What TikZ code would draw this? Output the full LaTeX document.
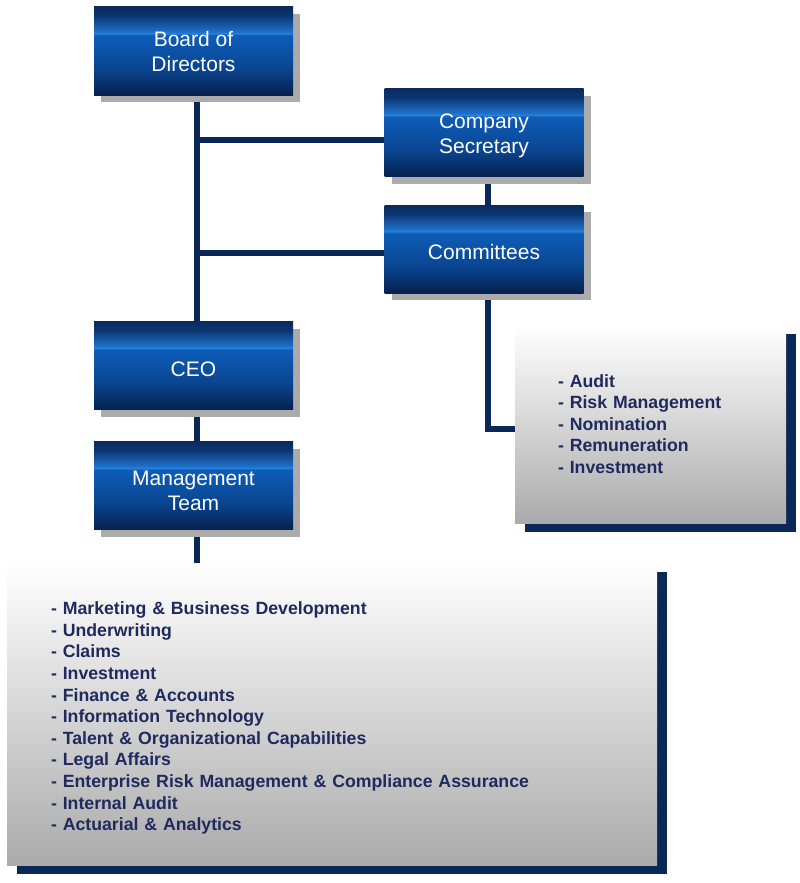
\documentclass[tikz,border=0pt]{standalone}
\usepackage{fontspec}
\setmainfont{Liberation Sans}
\usetikzlibrary{shadows,backgrounds}
\definecolor{Navy}{HTML}{0A2857}
\definecolor{Ink}{HTML}{1F2A5E}
\definecolor{Steel}{HTML}{ABABAB}
\definecolor{BoxBottom}{HTML}{05214F}
\definecolor{BoxLow}{HTML}{0A4590}
\definecolor{BoxMid}{HTML}{0E5DBA}
\definecolor{BoxBand}{HTML}{2C82D6}
\definecolor{BoxHigh}{HTML}{1E72CC}
\definecolor{BoxUpper}{HTML}{0B3672}
\definecolor{BoxTop}{HTML}{0A2A5C}
\pgfdeclareverticalshading{unitshade}{100bp}{color(0bp)=(BoxBottom); color(25bp)=(BoxBottom);
  color(40bp)=(BoxLow); color(59bp)=(BoxMid); color(60bp)=(BoxBand); color(60.8bp)=(BoxHigh);
  color(70bp)=(BoxUpper); color(75bp)=(BoxTop); color(100bp)=(BoxTop)}

\begin{document}
\begin{tikzpicture}[x=1pt, y=-1pt,
  unit/.style={minimum width=199pt, minimum height=88pt, inner sep=0pt, align=center,
    text=white, font=\fontsize{21}{25}\selectfont, shading=unitshade,
    execute at begin node={\rule{0pt}{21.3pt}},
    drop shadow={shadow xshift=7pt, shadow yshift=-7pt, fill=Steel, opacity=1}},
  listbox/.style={minimum height=#1, inner ysep=0pt, align=left, text=Ink,
    font=\fontsize{17.7}{21.6}\selectfont\bfseries, top color=white, bottom color=Steel,
    drop shadow={shadow xshift=10pt, shadow yshift=-9pt, fill=Navy, opacity=1}},
  link/.style={draw=Navy, line width=6pt}]
  \useasboundingbox (0,0) rectangle (800,883);

  \node[unit] (board) at (193.5,51) {Board of\\Directors};
  \node[unit] (sec) at (484,132.5) {\rule{0pt}{21.3pt}Company\\Secretary};
  \node[unit] (coms) at (484,249) {Committees};
  \node[unit] (ceo) at (193.5,365.5) {CEO};
  \node[unit] (mgmt) at (193.5,485.5) {\rule{0pt}{25pt}Management\\Team};

  \node[listbox=198pt, text width=185pt, inner xsep=43pt] (comlist) at (650.5,424)
    {- Audit\\- Risk Management\\- Nomination\\- Remuneration\\- Investment};
  \node[listbox=302pt, text width=562pt, inner xsep=44pt] (deptlist) at (332,714)
    {\rule{0pt}{21pt}- Marketing \& Business Development\\- Underwriting\\- Claims\\- Investment\\
     - Finance \& Accounts\\- Information Technology\\- Talent \& Organizational Capabilities\\
     - Legal Affairs\\- Enterprise Risk Management \& Compliance Assurance\\- Internal Audit\\
     - Actuarial \& Analytics};

  \coordinate (trunk) at (196.5,0);
  \begin{scope}[on background layer]
    \draw[link] (board.south -| trunk) -- (ceo.north -| trunk);
    \draw[link] ([yshift=-7pt]sec.west) -- ([yshift=-7pt]sec.west -| trunk);
    \draw[link] ([yshift=-3.5pt]coms.west) -- ([yshift=-3.5pt]coms.west -| trunk);
    \draw[link] ([xshift=3.5pt]sec.south) -- ([xshift=3.5pt]coms.north);
    \draw[link] ([xshift=3.5pt]coms.south) |- ([yshift=-4.5pt]comlist.west);
    \draw[link] (ceo.south -| trunk) -- (mgmt.north -| trunk);
    \draw[link] (mgmt.south -| trunk) -- (deptlist.north -| trunk);
  \end{scope}
\end{tikzpicture}
\end{document}
